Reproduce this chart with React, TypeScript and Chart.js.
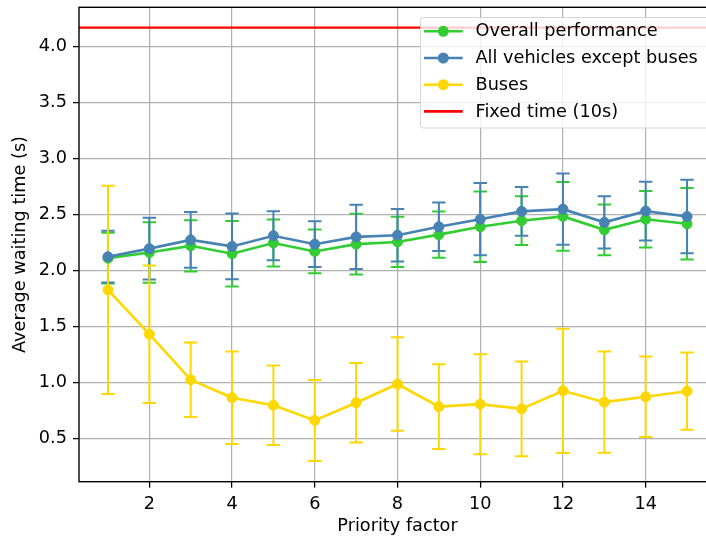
import React, { useEffect, useRef } from 'react';
import { Chart, registerables } from 'chart.js';

Chart.register(...registerables);

// ---- Data ----
const PRIORITY_FACTORS = [1, 2, 3, 4, 5, 6, 7, 8, 9, 10, 11, 12, 13, 14, 15];

const OVERALL_MEAN = [2.11, 2.16, 2.22, 2.15, 2.245, 2.17, 2.235, 2.255, 2.32, 2.39, 2.445, 2.483, 2.363, 2.458, 2.417];
const OVERALL_STD = [0.227, 0.27, 0.229, 0.293, 0.21, 0.196, 0.272, 0.224, 0.206, 0.315, 0.218, 0.307, 0.226, 0.252, 0.32];

const NON_BUS_MEAN = [2.123, 2.195, 2.273, 2.215, 2.31, 2.235, 2.3, 2.315, 2.39, 2.458, 2.528, 2.548, 2.43, 2.53, 2.482];
const NON_BUS_STD = [0.231, 0.275, 0.249, 0.294, 0.219, 0.205, 0.288, 0.235, 0.217, 0.323, 0.218, 0.318, 0.234, 0.262, 0.329];

const BUS_MEAN = [1.826, 1.43, 1.023, 0.863, 0.796, 0.66, 0.818, 0.985, 0.783, 0.805, 0.763, 0.924, 0.823, 0.871, 0.921];
const BUS_STD = [0.93, 0.615, 0.333, 0.413, 0.355, 0.362, 0.355, 0.418, 0.378, 0.447, 0.423, 0.556, 0.453, 0.36, 0.345];

const FIXED_TIME = 4.17;

const SERIES_LABELS = ['Overall performance', 'All vehicles except buses', 'Buses', 'Fixed time (10s)'];
const SERIES_COLORS = ['#32cd32', '#4682b4', '#ffd700', '#ff0000'];

const X_TICKS = [2, 4, 6, 8, 10, 12, 14];
const Y_TICKS = [0.5, 1.0, 1.5, 2.0, 2.5, 3.0, 3.5, 4.0];
const X_RANGE = [0.3, 15.7];
const Y_RANGE = [0.112, 4.352];

const X_TITLE = 'Priority factor';
const Y_TITLE = 'Average waiting time (s)';

// ---- Styles ----
const FONT_FAMILY = "'DejaVu Sans', sans-serif";
const FONT_SIZE = 17.7;
const LINE_W = 2.6;
const POINT_R = 5;

const toPoints = (ys: number[]) => PRIORITY_FACTORS.map((x, i) => ({ x, y: ys[i] }));

const errorSeries = [
  { mean: OVERALL_MEAN, std: OVERALL_STD, color: SERIES_COLORS[0] },
  { mean: NON_BUS_MEAN, std: NON_BUS_STD, color: SERIES_COLORS[1] },
  { mean: BUS_MEAN, std: BUS_STD, color: SERIES_COLORS[2] },
];

const errorBarPlugin = {
  id: 'errorBars',
  beforeDatasetsDraw(chart: any) {
    const { ctx, chartArea, scales } = chart;
    const xs = scales.x;
    const ys = scales.y;
    ctx.save();
    ctx.beginPath();
    ctx.rect(chartArea.left, chartArea.top, chartArea.right - chartArea.left, chartArea.bottom - chartArea.top);
    ctx.clip();
    ctx.lineWidth = 2;
    ctx.lineCap = 'butt';
    const cap = 6.7;
    for (const s of errorSeries) {
      ctx.strokeStyle = s.color;
      PRIORITY_FACTORS.forEach((xv, i) => {
        const px = xs.getPixelForValue(xv);
        const top = ys.getPixelForValue(s.mean[i] + s.std[i]);
        const bot = ys.getPixelForValue(s.mean[i] - s.std[i]);
        ctx.beginPath();
        ctx.moveTo(px, top);
        ctx.lineTo(px, bot);
        ctx.moveTo(px - cap, top);
        ctx.lineTo(px + cap, top);
        ctx.moveTo(px - cap, bot);
        ctx.lineTo(px + cap, bot);
        ctx.stroke();
      });
    }
    ctx.restore();
  },
};

const framePlugin = {
  id: 'frame',
  afterDatasetsDraw(chart: any) {
    const { ctx, chartArea } = chart;
    ctx.save();
    ctx.strokeStyle = '#000';
    ctx.lineWidth = 1.4;
    ctx.strokeRect(chartArea.left, chartArea.top, chartArea.right - chartArea.left, chartArea.bottom - chartArea.top);
    ctx.restore();
  },
};

const legendPlugin = {
  id: 'innerLegend',
  afterDraw(chart: any) {
    const { ctx } = chart;
    ctx.save();
    const bx = 420.5;
    const by = 17.5;
    const bw = 300;
    const bh = 110.5;
    const r = 3;
    ctx.beginPath();
    ctx.moveTo(bx + r, by);
    ctx.lineTo(bx + bw - r, by);
    ctx.arcTo(bx + bw, by, bx + bw, by + r, r);
    ctx.lineTo(bx + bw, by + bh - r);
    ctx.arcTo(bx + bw, by + bh, bx + bw - r, by + bh, r);
    ctx.lineTo(bx + r, by + bh);
    ctx.arcTo(bx, by + bh, bx, by + bh - r, r);
    ctx.lineTo(bx, by + r);
    ctx.arcTo(bx, by, bx + r, by, r);
    ctx.closePath();
    ctx.fillStyle = 'rgba(255,255,255,0.8)';
    ctx.fill();
    ctx.strokeStyle = 'rgba(204,204,204,0.8)';
    ctx.lineWidth = 1;
    ctx.stroke();

    const rowY0 = 31.3;
    const rowStep = 26.7;
    SERIES_LABELS.forEach((label, i) => {
      const y = rowY0 + i * rowStep;
      const color = SERIES_COLORS[i];
      ctx.strokeStyle = color;
      ctx.lineWidth = LINE_W;
      ctx.beginPath();
      ctx.moveTo(424, y);
      ctx.lineTo(462.7, y);
      ctx.stroke();
      if (i < 3) {
        ctx.fillStyle = color;
        ctx.beginPath();
        ctx.arc(443.3, y, POINT_R + 0.5, 0, Math.PI * 2);
        ctx.fill();
      }
      ctx.fillStyle = '#000';
      ctx.font = `${FONT_SIZE}px ${FONT_FAMILY}`;
      ctx.textBaseline = 'middle';
      ctx.textAlign = 'left';
      ctx.fillText(label, 475.5, y + 0.5);
    });
    ctx.restore();
  },
};

export default function App() {
  const canvasRef = useRef<HTMLCanvasElement | null>(null);

  useEffect(() => {
    const canvas = canvasRef.current;
    if (!canvas) return;
    const font = { family: FONT_FAMILY, size: FONT_SIZE, lineHeight: 1.2 };

    const lineDataset = (idx: number, ys: number[], order: number) => ({
      label: SERIES_LABELS[idx],
      data: toPoints(ys),
      borderColor: SERIES_COLORS[idx],
      backgroundColor: SERIES_COLORS[idx],
      borderWidth: LINE_W,
      pointRadius: POINT_R,
      pointBorderWidth: 1,
      pointBorderColor: SERIES_COLORS[idx],
      pointBackgroundColor: SERIES_COLORS[idx],
      tension: 0,
      fill: false,
      order,
    });

    const chart = new Chart(canvas, {
      type: 'line',
      data: {
        datasets: [
          lineDataset(0, OVERALL_MEAN, 4),
          lineDataset(1, NON_BUS_MEAN, 3),
          lineDataset(2, BUS_MEAN, 2),
          {
            label: SERIES_LABELS[3],
            data: [
              { x: X_RANGE[0], y: FIXED_TIME },
              { x: X_RANGE[1], y: FIXED_TIME },
            ],
            borderColor: SERIES_COLORS[3],
            backgroundColor: SERIES_COLORS[3],
            borderWidth: 2.2,
            pointRadius: 0,
            tension: 0,
            fill: false,
            order: 1,
          },
        ],
      },
      options: {
        animation: false,
        responsive: false,
        devicePixelRatio: 1,
        events: [],
        layout: { padding: { top: 7.3, right: 14, left: 0, bottom: 0 } },
        plugins: {
          legend: { display: false },
          tooltip: { enabled: false },
          title: { display: false },
        },
        scales: {
          x: {
            type: 'linear',
            min: X_RANGE[0],
            max: X_RANGE[1],
            afterBuildTicks: (scale: any) => {
              scale.ticks = X_TICKS.map((v) => ({ value: v }));
            },
            afterFit: (scale: any) => {
              scale.height = 58.3;
              scale.paddingLeft = 0;
              scale.paddingRight = 0;
            },
            border: { display: false },
            grid: {
              color: '#b0b0b0',
              lineWidth: 1.2,
              drawTicks: true,
              tickLength: 6,
              tickColor: '#000',
              tickWidth: 1.3,
            },
            ticks: {
              font,
              color: '#000',
              padding: 6,
              maxRotation: 0,
              autoSkip: false,
              callback: (v: any) => String(v),
            },
            title: {
              display: true,
              text: X_TITLE,
              font,
              color: '#000',
              padding: { top: 0, bottom: 2.5 },
            },
          },
          y: {
            type: 'linear',
            min: Y_RANGE[0],
            max: Y_RANGE[1],
            afterBuildTicks: (scale: any) => {
              scale.ticks = Y_TICKS.map((v) => ({ value: v }));
            },
            afterFit: (scale: any) => {
              scale.width = 79;
              scale.paddingTop = 0;
              scale.paddingBottom = 0;
            },
            border: { display: false },
            grid: {
              color: '#b0b0b0',
              lineWidth: 1.2,
              drawTicks: true,
              tickLength: 6,
              tickColor: '#000',
              tickWidth: 1.3,
            },
            ticks: {
              font,
              color: '#000',
              padding: 6,
              autoSkip: false,
              callback: (v: any) => Number(v).toFixed(1),
            },
            title: {
              display: true,
              text: Y_TITLE,
              font,
              color: '#000',
              padding: { top: 9.3, bottom: 0 },
            },
          },
        },
      },
      plugins: [errorBarPlugin, framePlugin, legendPlugin],
    } as any);

    return () => {
      chart.destroy();
    };
  }, []);

  return (
    <div
      style={{
        position: 'fixed',
        left: 0,
        top: 0,
        width: 706,
        height: 540,
        overflow: 'hidden',
        background: '#fff',
      }}
    >
      <canvas ref={canvasRef} width={730} height={540} style={{ display: 'block', width: 730, height: 540 }} />
    </div>
  );
}
